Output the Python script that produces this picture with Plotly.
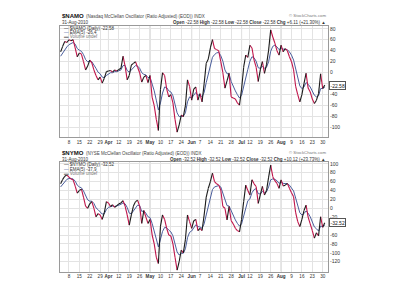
import pandas as pd
import plotly.graph_objects as go

# ---------------- data ----------------
holidays = ["2010-04-02", "2010-05-31", "2010-07-05"]
dates = [d for d in pd.bdate_range("2010-03-02", "2010-08-31")
         if d.strftime("%Y-%m-%d") not in holidays]

tick_dates = ["2010-03-08", "2010-03-15", "2010-03-22", "2010-03-29", "2010-04-05",
              "2010-04-12", "2010-04-19", "2010-04-26", "2010-05-03", "2010-05-10",
              "2010-05-17", "2010-05-24", "2010-06-01", "2010-06-07", "2010-06-14",
              "2010-06-21", "2010-06-28", "2010-07-06", "2010-07-12", "2010-07-19",
              "2010-07-26", "2010-08-02", "2010-08-09", "2010-08-16", "2010-08-23",
              "2010-08-30"]
tick_labels = ["8", "15", "22", "29", "<b>Apr</b>", "12", "19", "26", "<b>May</b>", "10",
               "17", "24", "<b>Jun</b>", "7", "14", "21", "28", "<b>Jul</b>", "12", "19",
               "26", "<b>Aug</b>", "9", "16", "23", "30"]
month_dates = ["2010-04-05", "2010-05-03", "2010-06-01", "2010-07-06", "2010-08-02"]

namo = [38, 48, 57, 55, 60, 58, 60, 45, 29, 36,
        34, 20, 5, 12, 23, 18, 5, -5, -13, -8,
        -19, -10, 2, 3, 4, 1, 5, 3, 6, 8,
        30, 12, -13, -5, 14, 17, 20, 10, 0, -17,
        -8, -5, -18, -5, -45, -60, -85, -105, -30, 0,
        -5, -30, -44, -40, -55, -85, -108, -95, -77, -80,
        -60, -13, -25, -50, -30, -26, -50, -38, -53, -20,
        17, 25, 45, 60, 44, 42, 40, 20, 0, -28,
        -15, -1, -44, -46, -48, -55, -59, -30, 10, 32,
        28, 50, 45, 23, 10, -16, 5, 20, -1, 15,
        41, 78, 65, 54, 40, 32, 50, 38, 44, 40,
        29, 20, 5, -25, -40, -53, -40, -20, -1, -28,
        -35, -48, -56, -50, -38, -2, -28.69, -22.58]
namo_ema = [30, 36, 43, 47, 51, 53, 55, 52, 44, 41,
            39, 33, 24, 20, 21, 20, 15, 8, 1, -2,
            -8, -9, -5, -2, 0, 0, 2, 2, 3, 5,
            13, 13, 4, 1, 5, 9, 13, 12, 8, 0,
            -3, -4, -9, -8, -20, -33, -50, -68, -55, -37,
            -26, -27, -33, -35, -42, -56, -73, -80, -79, -79,
            -73, -53, -44, -46, -41, -36, -41, -40, -44, -36,
            -18, -4, 12, 28, 33, 36, 37, 31, 21, 5,
            -2, -2, -16, -26, -33, -40, -46, -41, -24, -5,
            6, 21, 29, 27, 21, 9, 8, 12, 8, 10,
            20, 39, 48, 50, 47, 42, 45, 43, 43, 42,
            38, 32, 23, 7, -9, -24, -29, -26, -18, -21,
            -26, -33, -41, -44, -42, -29, -28.5, -26.4]

nymo = [55, 65, 72, 75, 70, 66, 64, 50, 34, 40,
        43, 25, 5, 0, 10, 15, 0, -19, -12, -15,
        -25, -10, 15, 12, 4, 8, 2, 6, 10, 12,
        17, 5, -15, -38, -15, 5, 15, 18, 5, -34,
        -5, -20, -34, -25, -60, -80, -110, -124, -40, -15,
        -25, -45, -60, -62, -80, -110, -139, -120, -94, -100,
        -70, -15, -30, -45, -28, -25, -50, -45, -50, -15,
        25, 45, 60, 79, 60, 55, 52, 41, 4, 0,
        -26, 4, -28, -35, -45, -50, -53, -25, 15, 52,
        40, 30, 64, 55, 49, 11, 30, 49, 30, 40,
        70, 97, 71, 62, 56, 45, 64, 50, 52, 56,
        45, 35, 26, -10, -30, -41, -25, -5, 7, -20,
        -35, -50, -67, -55, -62, -19, -42.64, -32.52]
nymo_ema = [48, 54, 60, 65, 67, 67, 66, 61, 52, 48,
            46, 39, 28, 19, 16, 16, 11, 1, -3, -7,
            -13, -12, -3, 2, 3, 5, 4, 5, 7, 9,
            12, 10, 2, -11, -12, -6, 1, 7, 6, -7,
            -6, -11, -19, -21, -34, -49, -69, -87, -71, -52,
            -43, -44, -49, -53, -62, -78, -98, -105, -101, -101,
            -91, -66, -54, -51, -43, -37, -41, -42, -45, -35,
            -15, 5, 23, 42, 48, 50, 51, 48, 33, 22,
            6, 5, -6, -16, -26, -34, -40, -35, -18, 5,
            17, 21, 35, 42, 44, 33, 32, 38, 35, 37,
            48, 64, 66, 65, 62, 56, 59, 56, 55, 55,
            52, 46, 39, 23, 5, -10, -15, -12, -6, -11,
            -19, -29, -42, -46, -51, -40, -40.9, -37.9]

top_ticks = [80, 60, 40, 20, 0, -20, -40, -60, -80, -100]
top_tick_text = ["80", "60", "40", "20", "0", "", "-40", "-60", "-80", "-100"]
bot_ticks = [100, 80, 60, 40, 20, 0, -20, -40, -60, -80, -100, -120]
bot_tick_text = ["100", "80", "60", "40", "20", "0", "-20", "", "-60", "-80", "-100", "-120"]

# ---------------- figure ----------------
FONT = "Liberation Sans, Arial, sans-serif"
UP_C = "#1a1a1a"
DN_C = "#c0144a"
EMA_C = "#4b5e9c"
GRID = "#e3e3e3"
MONTH_GRID = "#c4c4c4"

date_str = [d.strftime("%Y-%m-%d") for d in dates]
xs = list(range(len(dates)))
tickvals = [date_str.index(d) for d in tick_dates]
month_vals = [date_str.index(d) for d in month_dates]

fig = go.Figure()


def add_panel(vals, ema, xa, ya):
    fig.add_trace(go.Scatter(x=xs, y=ema, mode="lines", xaxis=xa, yaxis=ya,
                             line=dict(color=EMA_C, width=1), hoverinfo="skip"))
    ux, uy, dx, dy = [], [], [], []
    for i in range(1, len(vals)):
        if vals[i] >= vals[i - 1]:
            ux += [xs[i - 1], xs[i], None]
            uy += [vals[i - 1], vals[i], None]
        else:
            dx += [xs[i - 1], xs[i], None]
            dy += [vals[i - 1], vals[i], None]
    fig.add_trace(go.Scatter(x=dx, y=dy, mode="lines", xaxis=xa, yaxis=ya,
                             line=dict(color=DN_C, width=1.1), hoverinfo="skip"))
    fig.add_trace(go.Scatter(x=ux, y=uy, mode="lines", xaxis=xa, yaxis=ya,
                             line=dict(color=UP_C, width=1.1), hoverinfo="skip"))


add_panel(namo, namo_ema, "x", "y")
add_panel(nymo, nymo_ema, "x2", "y2")

xcommon = dict(domain=[0.15, 0.82], range=[-0.3, 128.55], tickmode="array",
               tickvals=tickvals, ticktext=tick_labels, tickangle=0, showgrid=True,
               gridcolor=GRID, gridwidth=1, zeroline=False, showline=True,
               linecolor="#9a9a9a", linewidth=1, mirror=True, ticks="",
               tickfont=dict(size=4.6, color="#333"), fixedrange=True)
ycommon = dict(side="right", showgrid=True, gridcolor=GRID, zeroline=False,
               showline=True, linecolor="#9a9a9a", linewidth=1, mirror=True,
               ticks="", tickfont=dict(size=5, color="#333"), fixedrange=True,
               tickmode="array")

fig.update_layout(
    width=400, height=300, margin=dict(l=0, r=0, t=0, b=0),
    paper_bgcolor="white", plot_bgcolor="white", showlegend=False,
    font=dict(family=FONT, size=5, color="#222"),
    xaxis=dict(anchor="y", **xcommon),
    xaxis2=dict(anchor="y2", **xcommon),
    yaxis=dict(anchor="x", domain=[1 - 137 / 300, 1 - 26 / 300], range=[-117, 85],
               tickvals=top_ticks, ticktext=top_tick_text, **ycommon),
    yaxis2=dict(anchor="x2", domain=[1 - 271.5 / 300, 1 - 162 / 300], range=[-142, 104],
                tickvals=bot_ticks, ticktext=bot_tick_text, **ycommon),
)

shapes = []
for xr, yr in (("x", "y"), ("x2", "y2")):
    for m in month_vals:
        shapes.append(dict(type="line", xref=xr, yref=yr + " domain", x0=m, x1=m,
                           y0=0, y1=1, layer="below",
                           line=dict(color=MONTH_GRID, width=1)))
fig.update_layout(shapes=shapes)

ann = []


def txt(x, y, text, size=5, anchor="left", color="#222", **kw):
    ann.append(dict(x=x / 400, y=1 - y / 300, xref="paper", yref="paper", text=text,
                    showarrow=False, xanchor=anchor, yanchor="middle",
                    font=dict(size=size, color=color, family=FONT), **kw))


def header(y0, sym, desc, close, chg, pct, ema_last, legend_name):
    txt(60, y0, "<b>" + sym + "</b>", size=6, color="#111")
    txt(84, y0 + 0.5, desc, size=4.5, color="#444")
    txt(328, y0 - 0.5, "© StockCharts.com", size=4.3, anchor="right", color="#777")
    txt(60, y0 + 6.5, "31-Aug-2010", size=4.5, color="#333")
    c = f"{close:.2f}"
    txt(328, y0 + 6.5,
        f"<b>Open</b> {c} <b>High</b> {c} <b>Low</b> {c} <b>Close</b> {c} "
        f"<b>Chg</b> +{chg:.2f} (+{pct:.2f}%) ▲",
        size=4.5, anchor="right", color="#333")
    txt(62, y0 + 12, f"<span style='color:{UP_C}'>—</span> {legend_name} (Daily) {c}",
        size=4.5, color="#333")
    txt(62, y0 + 16.5, f"<span style='color:{EMA_C}'>—</span> EMA(5) {ema_last}",
        size=4.5, color="#333")
    txt(62, y0 + 21, "<span style='color:#888'>▬</span> Volume undef",
        size=4.5, color="#777")


header(16, "$NAMO", "(Nasdaq McClellan Oscillator (Ratio Adjusted) (EOD)) INDX",
       namo[-1], 6.11, 21.30, namo_ema[-1], "$NAMO")
header(152.7, "$NYMO", "(NYSE McClellan Oscillator (Ratio Adjusted) (EOD)) INDX",
       nymo[-1], 10.12, 23.73, nymo_ema[-1], "$NYMO")

for v, yr in ((namo[-1], "y"), (nymo[-1], "y2")):
    ann.append(dict(x=0.822, y=v, xref="paper", yref=yr, text=f"{v:.2f}",
                    showarrow=False, xanchor="left", yanchor="middle",
                    bgcolor="white", bordercolor="#555", borderwidth=1, borderpad=0.5,
                    font=dict(size=5, color="#111", family=FONT)))

fig.update_layout(annotations=ann)
fig.write_html("out.html")
